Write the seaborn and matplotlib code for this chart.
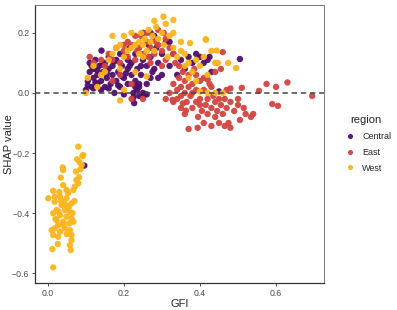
import pandas as pd
import seaborn as sns
import matplotlib
matplotlib.use('Agg')
import matplotlib.pyplot as plt

regions = ['Central', 'East', 'West']
region_colors = ['#4F0D6C', '#D1443F', '#FBB41C']

# (GFI, SHAP value)
central_pts = [
    (0.10, 0.01), (0.105, 0.04), (0.11, 0.07), (0.11, 0.10), (0.115, 0.02), (0.12, 0.05),
    (0.12, 0.08), (0.125, 0.11), (0.13, 0.03), (0.13, 0.06), (0.135, 0.09), (0.14, 0.01),
    (0.14, 0.04), (0.145, 0.07), (0.15, 0.10), (0.15, 0.02), (0.155, 0.05), (0.16, 0.08),
    (0.16, 0.12), (0.165, 0.03), (0.17, 0.06), (0.17, 0.09), (0.175, 0.00), (0.18, 0.04),
    (0.18, 0.11), (0.185, 0.07), (0.19, 0.02), (0.19, 0.13), (0.195, 0.09), (0.20, 0.05),
    (0.20, -0.005), (0.205, 0.12), (0.21, 0.08), (0.21, 0.03), (0.215, 0.15), (0.22, 0.06),
    (0.22, 0.10), (0.225, 0.00), (0.23, 0.04), (0.23, 0.13), (0.235, 0.08), (0.24, 0.02),
    (0.24, -0.01), (0.245, 0.06), (0.25, 0.00), (0.25, 0.11), (0.255, -0.005), (0.26, 0.03),
    (0.26, 0.09), (0.265, 0.16), (0.27, 0.05), (0.27, 0.12), (0.28, 0.08), (0.28, 0.19),
    (0.285, 0.15), (0.29, 0.10), (0.30, 0.06), (0.30, 0.13), (0.31, 0.17), (0.32, 0.09),
    (0.33, 0.13), (0.34, 0.06), (0.35, 0.11), (0.36, 0.08), (0.37, 0.12), (0.38, 0.10),
    (0.39, 0.13), (0.40, 0.12), (0.41, 0.10), (0.42, 0.11), (0.425, 0.12), (0.43, 0.07),
    (0.45, 0.005), (0.505, 0.113), (0.096, -0.242), (0.141, 0.141), (0.227, -0.034),
    (0.225, -0.015), (0.25, 0.20), (0.27, 0.20), (0.32, 0.17), (0.235, 0.01), (0.24, 0.03),
    (0.12, 0.015), (0.13, 0.075), (0.115, 0.09), (0.16, 0.015), (0.205, 0.065),
    (0.105, 0.025), (0.125, 0.035), (0.145, 0.095), (0.155, 0.065), (0.175, 0.105),
    (0.185, 0.025), (0.195, 0.055), (0.215, 0.09), (0.23, 0.02), (0.245, 0.09),
    (0.26, -0.005), (0.275, 0.07), (0.29, 0.05), (0.165, 0.115), (0.21, 0.11),
]

east_pts = [
    (0.14, 0.11), (0.15, 0.09), (0.16, 0.13), (0.17, 0.11), (0.18, 0.15), (0.19, 0.10),
    (0.20, 0.14), (0.21, 0.12), (0.21, 0.17), (0.22, 0.16), (0.23, 0.11), (0.24, 0.15),
    (0.245, 0.19), (0.25, 0.13), (0.26, 0.17), (0.265, 0.12), (0.27, 0.15), (0.28, 0.13),
    (0.28, 0.18), (0.29, 0.16), (0.30, 0.14), (0.305, 0.20), (0.31, 0.11), (0.32, 0.15),
    (0.33, 0.13), (0.335, 0.10), (0.19, 0.06), (0.22, 0.03), (0.25, -0.02), (0.22, -0.02),
    (0.12, 0.10), (0.11, 0.12), (0.17, 0.04), (0.29, 0.21), (0.31, 0.18), (0.26, 0.20),
    (0.30, 0.09), (0.23, 0.19), (0.20, 0.16), (0.27, 0.10), (0.285, 0.17), (0.235, 0.14),
    (0.33, 0.03), (0.34, 0.01), (0.34, -0.02), (0.345, 0.05), (0.35, 0.02), (0.35, -0.01),
    (0.355, 0.07), (0.36, 0.00), (0.36, 0.04), (0.365, -0.03), (0.37, 0.02), (0.37, 0.06),
    (0.375, -0.01), (0.38, 0.03), (0.38, -0.05), (0.385, 0.08), (0.39, 0.01), (0.39, -0.03),
    (0.395, -0.08), (0.40, 0.04), (0.40, -0.02), (0.405, -0.06), (0.41, 0.01), (0.41, -0.10),
    (0.415, -0.04), (0.42, -0.02), (0.42, -0.07), (0.425, 0.03), (0.43, -0.05), (0.43, -0.11),
    (0.435, -0.01), (0.44, -0.03), (0.44, -0.08), (0.445, -0.06), (0.45, -0.02), (0.45, -0.10),
    (0.455, -0.04), (0.46, -0.07), (0.465, -0.02), (0.47, -0.05), (0.475, -0.10), (0.48, -0.03),
    (0.49, -0.06), (0.50, -0.04), (0.505, -0.09), (0.515, -0.05), (0.52, -0.07), (0.54, -0.07),
    (0.36, -0.07), (0.37, -0.12), (0.35, -0.05), (0.33, -0.03), (0.31, -0.02), (0.32, 0.00),
    (0.455, 0.08), (0.46, 0.136), (0.44, 0.07), (0.47, 0.01), (0.50, -0.02), (0.48, 0.015),
    (0.575, 0.03), (0.60, 0.02), (0.555, 0.007), (0.63, 0.035), (0.695, -0.01), (0.59, -0.037),
    (0.605, -0.043), (0.534, -0.08), (0.48, -0.116), (0.465, -0.11), (0.51, 0.017),
    (0.394, -0.116), (0.363, -0.059), (0.328, -0.023), (0.345, 0.09), (0.39, 0.06),
    (0.41, 0.05), (0.43, 0.02), (0.355, -0.035), (0.40, -0.04), (0.42, 0.045), (0.38, 0.0),
]

west_pts = [
    (0.10, 0.00), (0.105, 0.05), (0.13, 0.02), (0.16, 0.11), (0.17, 0.13), (0.18, 0.15),
    (0.19, 0.16), (0.20, 0.12), (0.21, 0.14), (0.22, 0.15), (0.23, 0.16), (0.24, 0.17),
    (0.24, 0.13), (0.245, 0.20), (0.25, 0.16), (0.255, 0.18), (0.26, 0.14), (0.265, 0.21),
    (0.27, 0.17), (0.275, 0.19), (0.28, 0.14), (0.285, 0.22), (0.29, 0.18), (0.304, 0.254),
    (0.30, 0.20), (0.305, 0.16), (0.31, 0.23), (0.315, 0.12), (0.32, 0.19), (0.33, 0.243),
    (0.33, 0.15), (0.34, 0.12), (0.35, 0.17), (0.36, 0.13), (0.37, 0.10), (0.38, 0.07),
    (0.374, 0.166), (0.39, 0.04), (0.40, 0.09), (0.41, 0.12), (0.42, 0.06), (0.43, 0.14),
    (0.44, 0.10), (0.444, 0.141), (0.474, 0.10), (0.39, 0.11), (0.37, 0.05), (0.36, 0.09),
    (0.40, 0.005), (0.42, 0.00), (0.44, 0.00), (0.46, 0.00), (0.19, -0.025), (0.33, 0.20),
    (0.17, 0.19), (0.20, 0.19), (0.22, 0.20), (0.35, 0.14), (0.28, 0.24), (0.15, 0.07),
    (0.14, 0.06), (0.19, 0.08), (0.23, 0.07), (0.26, 0.055), (0.20, 0.01), (0.12, 0.09),
    (0.415, 0.179), (0.495, 0.083), (0.447, 0.10), (0.416, 0.177), (0.25, 0.12),
    (0.08, -0.179), (0.091, -0.21), (0.077, -0.221), (0.074, -0.262), (0.086, -0.254),
    (0.039, -0.248), (0.04, -0.257), (0.034, -0.282), (0.082, -0.281), (0.08, -0.301),
    (0.04, -0.307), (0.067, -0.323), (0.001, -0.351), (0.014, -0.326), (0.018, -0.346),
    (0.032, -0.346), (0.049, -0.351), (0.062, -0.368), (0.018, -0.362), (0.036, -0.373),
    (0.023, -0.39), (0.045, -0.39), (0.058, -0.396), (0.014, -0.401), (0.032, -0.407),
    (0.049, -0.412), (0.062, -0.418), (0.023, -0.423), (0.04, -0.429), (0.056, -0.434),
    (0.067, -0.429), (0.027, -0.44), (0.045, -0.451), (0.018, -0.451), (0.01, -0.457),
    (0.032, -0.462), (0.058, -0.457), (0.062, -0.473), (0.014, -0.473), (0.027, -0.479),
    (0.062, -0.49), (0.026, -0.503), (0.058, -0.507), (0.06, -0.523), (0.012, -0.52),
    (0.014, -0.581), (0.049, -0.323), (0.053, -0.334), (0.071, -0.312), (0.075, -0.29),
    (0.089, -0.24), (0.093, -0.207), (0.083, -0.23), (0.03, -0.33), (0.045, -0.37),
    (0.055, -0.38), (0.028, -0.395), (0.065, -0.40), (0.04, -0.44), (0.05, -0.47),
    (0.02, -0.42), (0.07, -0.36), (0.035, -0.36),
]

frames = []
for name, pts in zip(regions, [central_pts, east_pts, west_pts]):
    gfi, shap = zip(*pts)
    frames.append(pd.DataFrame({'GFI': gfi, 'SHAP value': shap, 'region': name}))
df = pd.concat(frames, ignore_index=True)

sns.set_style('white')
plt.rcParams['font.family'] = ['Liberation Sans', 'DejaVu Sans']

fig = plt.figure(figsize=(3.97, 3.10), dpi=100)
ax = fig.add_axes([0.088, 0.087, 0.728, 0.897])

sns.scatterplot(data=df, x='GFI', y='SHAP value', hue='region', hue_order=regions,
                palette=region_colors, s=21, linewidth=0, alpha=0.95, ax=ax)
ax.axhline(0, color='#444444', linestyle=(0, (3.5, 2.5)), linewidth=1.1, zorder=3)

ax.set_xlim(-0.034, 0.726)
ax.set_ylim(-0.633, 0.293)
ax.set_xticks([0.0, 0.2, 0.4, 0.6])
ax.set_yticks([-0.6, -0.4, -0.2, 0.0, 0.2])
ax.set_xticklabels(['0.0', '0.2', '0.4', '0.6'])
ax.set_yticklabels(['\u22120.6', '\u22120.4', '\u22120.2', '0.0', '0.2'])
ax.tick_params(axis='both', labelsize=6.3, labelcolor='#4D4D4D', color='#333333',
               length=2.5, width=0.6, pad=1.5, left=True, bottom=True)
ax.set_xlabel('GFI', fontsize=8, labelpad=1)
ax.set_ylabel('SHAP value', fontsize=8)
ax.yaxis.set_label_coords(-0.074, 0.5)

for side in ['left', 'bottom']:
    ax.spines[side].set_color('#333333')
    ax.spines[side].set_linewidth(0.9)
for side in ['top', 'right']:
    ax.spines[side].set_color('#777777')
    ax.spines[side].set_linewidth(0.7)

sns.move_legend(ax, 'center left', bbox_to_anchor=(1.03, 0.5), frameon=False,
                title='region', fontsize=6.5, title_fontsize=8,
                handletextpad=0.4, labelspacing=0.75, markerscale=0.8)

fig.savefig('out.png', dpi=100)
